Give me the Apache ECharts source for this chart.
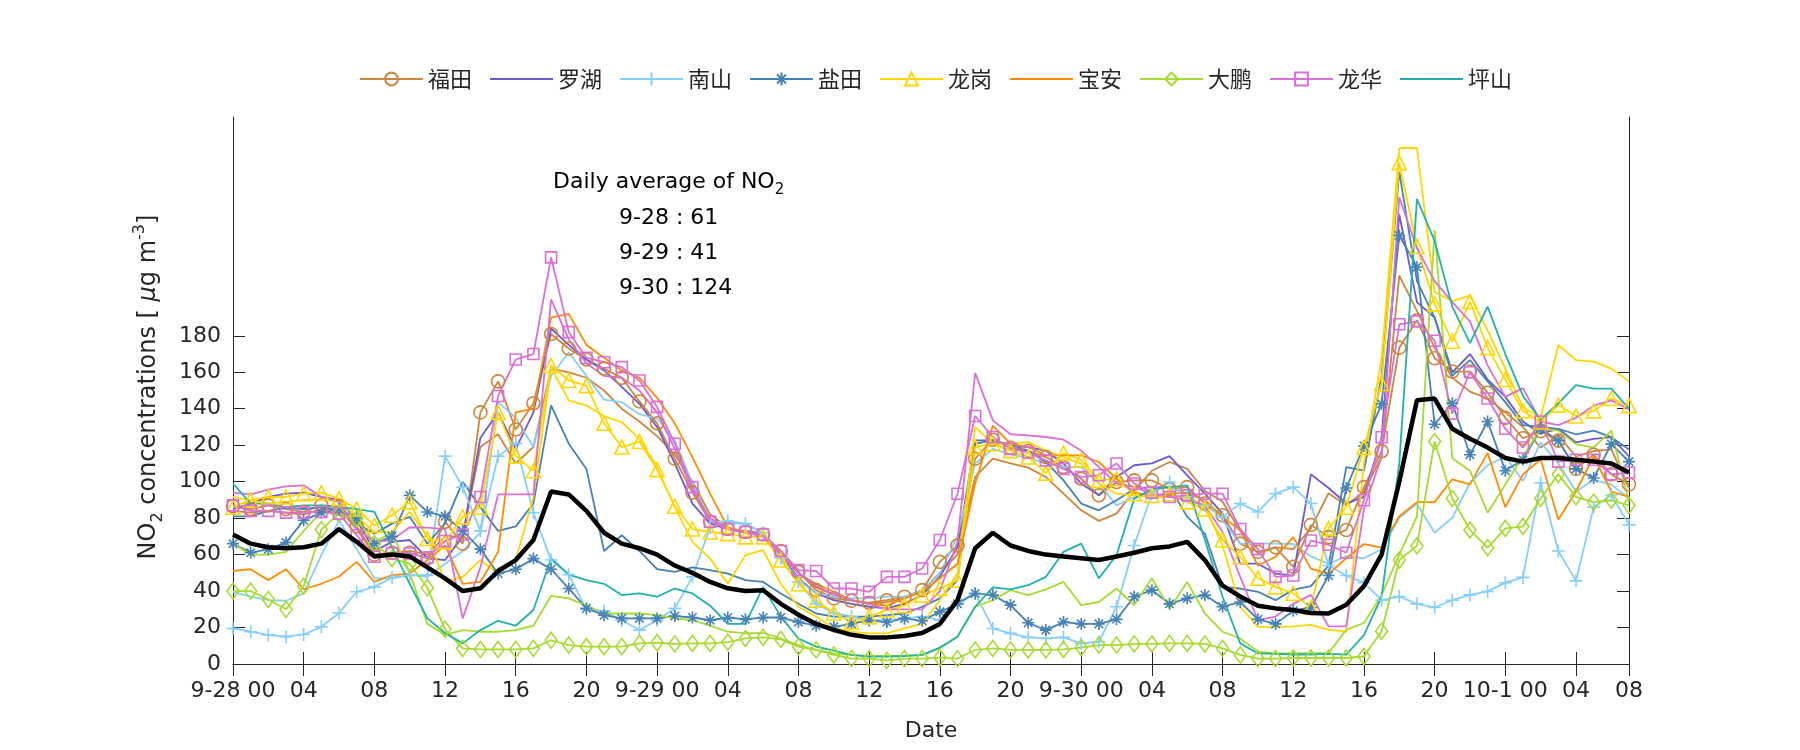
<!DOCTYPE html>
<html><head><meta charset="utf-8">
<script src="https://cdn.jsdelivr.net/npm/echarts@6/dist/echarts.min.js"></script>
<style>html,body{margin:0;padding:0;background:#fff}#c{width:1800px;height:750px}</style>
</head><body><div id="c"></div>
<script>
// ---- categories: hourly from 9-28 00 to 10-1 07 (80 points)
const days = ['9-28','9-29','9-30','10-1'];
const hours = [];
for (let h = 0; h < 80; h++) { hours.push(days[Math.floor(h/24)] + ' ' + String(h%24).padStart(2,'0')); }
const xTickIdx = [0,4,8,12,16,20,24,28,32,36,40,44,48,52,56,60,64,68,72,76,79];
const xTickLabels = ['9-28 00','04','08','12','16','20','9-29 00','04','08','12','16','20','9-30 00','04','08','12','16','20','10-1 00','04','08'];
const yTickValues = [0,20,40,60,80,100,120,140,160,180];
const dailyDates = ['9-28','9-29','9-30'];
const dailyAvg = [61,41,124];

// ---- series values
const futian = [86.5,85,87,85,83.4,87,86.5,75.5,60,61,61,58,78,66,138,155,128.6,143,181,173,167,
162,157,144,132,112.6,94,78,74,72.4,71,62,50.5,40.5,36,34.7,33.6,35,36.9,40.5,56,
65,112.6,123,118.6,116.8,113.5,108,101.6,92.5,99.8,100.7,100.7,96,97,88,81.6,66,61.5,64,
53.3,76.3,69.6,73.5,97,116.7,173.5,188.5,167.7,160.4,160.4,148.8,135,123.8,127.7,122.5,107,114.8,104,98.5];
const futian2 = [84,83,84,83,82,85,85,74,60,61,62,60,70,
70,119,126,110,119,162,160,157,
150,140,133,125,115,100,82,75,72,70,60,50,42,38,35,33,34,36,40,50,
60,102.6,112.6,110,107.7,102.6,93.4,84.3,78.5,82.5,95,106,110.8,107,95,89,73,60.6,64,
63,74.4,93.7,87,94.6,113.8,213,193.7,173.5,157,149.4,145.6,138,130,118.7,125.4,113.8,116.7,117.7,96.5];
const luohu = [85,88,91.6,93.4,94,91.6,90,79,62,67,68,58,57,70,124,138,118,138,184,175,167,
161,152,142.7,130,110,88,77,74,73,71.5,59.7,47,38.7,35,33,31.4,30.5,33,37.8,48,
64,122.6,122.6,120,119,117,110,99,92.5,102.6,109,110,114,103.5,93.4,82.5,55,55,49.6,
48.5,104,96.5,88,91.7,124.4,246.5,198.5,190,160,170,156,146.5,133,126.3,129,121.5,123.5,124.4,113.8];
const nanshan = [19.5,17.7,15.9,15,16.2,20.4,28,39.6,42.3,47.4,48.7,48.7,114,97,73,114,121,83,57,49,30,
29,24,18.6,24,30.5,47.8,75,78.5,77,72,58,45,33,28,26,24,24,25,26,24,
34,38.7,19.5,16.8,14.6,14,14.6,11.3,12.2,31.4,65,93.4,99.8,91.6,87,80.7,88,83.4,93.4,
97,88,54,48.5,44.6,35,37,33,31,35,37.9,39.8,44.6,47.5,99.4,62,45.6,86,92.7,76.3];
const nanshan2 = [39.6,36.9,35,34.7,38.7,59.7,78.8,63,47,47,48.7,47.8,55,62,72,143.6,135,119,158,171,158,
145,143.6,137,134.5,122.6,99,78.8,77,77,71.5,58.8,46,38.7,36.9,36,36,36.9,36.9,40.5,49.6,
70,110,118,115,113,110,108,108,99,87,91.6,95,97,93,90,79,66,66,66,
65.8,59,55,59,58,62.9,80.2,87.9,72,80.2,99.4,109,113.8,100.4,121.5,110,94.6,101,98.5,90.8];
const yantian = [66,61,63,66.6,78.8,83,85,80,66,70,92.5,83.4,81,73,63,49.6,52,57.8,52,41.4,30.5,
26.8,25,25,25,26.3,25.5,24,25.5,24.5,25.5,25.5,23,21,20.4,22,24,23,25,23.7,28.6,
33,38.7,37.8,32.3,22.6,18.6,23,22,22,24.5,36.9,40.5,33,36,37.8,31.4,34,24.5,22,
29.2,31,48.5,96.5,119.6,142.7,235,217.7,131.5,143,114.8,133,106,112,129,122.5,107,102,120.6,111];
const yantian2 = [81,81,84,85.8,85,86,84.7,77,71.5,77,80.7,66,77,100,86,73,75.5,88,141.8,120.8,107,
62,70.6,62,52,50.5,53,51.5,49.6,46,45,38.7,33,27.7,26,26,26,26.8,27.7,31.4,36,
46,120.8,122.6,120,117,110.8,100.7,88,84.3,89.8,96,97,97,80.7,71.5,42.3,41.4,39.6,35,
40.8,42.7,54,108,106,158,270,210,190,158,166.7,155,143.6,131,130,129,126,128,124.4,117.7];
const longgang = [86,90,91.6,91.6,93.4,94,90.7,85,76,81.6,88.9,68.8,67,80.7,86,138,114,106,163.7,155.5,152.7,
132,119,122,106.6,86.5,74,72.4,71.5,69.7,69.7,57,44,35,28,23,26,29.6,32,37.8,41.4,
46,119,120.8,117,113.5,104.7,115.7,112,100.7,101.6,93.4,92.5,93.4,88.9,85,68,58.8,47,42.3,
38.8,31,74.4,86,118.7,153.8,275,229,197.5,177,198.8,173.5,156,138.8,132.7,142,136,138.8,145.6,141.7];
const longgang2 = [91.6,89.8,88,89,90,90,89.4,80.7,72.4,72.4,83.4,70,45,47.8,57,49.6,57,91.6,162.8,144.5,141.8,
136,132.6,123.5,108,86,67,57.8,44,59.7,62.4,44,31.4,26,19.5,17.7,16.8,16.8,19.5,22,35,
49.6,130,120.8,120.8,121.7,117,113.5,109.9,99,93.4,92.5,91.6,91.6,91.6,86,65,31.4,20.4,20.4,
20.6,21.5,18.7,17.7,110,168,283,283,204,199,202,183,162,140.8,135,175,166.7,165.8,162,155];
const baoan = [51,52,46,52,41,44,48,56,45,48.7,49.6,57,65,44,45,61.5,138,140,190,192,175,
168,161,157,146,132,113.5,93.4,75,72.4,70.6,61.5,49.6,44,39.6,35,33,32,36,39.6,47,
55,99,130.8,120.8,119,114.4,114.4,114.4,110.8,101.6,94,92.5,93.4,94,89.8,80.7,73.4,54,58.8,
69.6,52.3,49.4,58,65.8,63.8,81,88.8,88.8,101.3,98.5,115.8,86,104,112.3,79.2,94.6,113.8,94.6,91.7];
const dapeng = [40,40,35.4,30,42.7,73.7,82.5,79.7,66,57.8,55,41.8,19,8.6,8,8,8,8.6,13,10.4,9.5,
9.5,9.5,11.3,11.7,11,11.3,11.3,12,14,14.6,13.5,9.5,7.7,5,3,3,2,3,3,3.5,
3,7.7,8.6,7.7,7.7,7.7,8,9,10.4,10.4,11,11,11.3,11.3,11,8.6,5,3,3,
3.3,3.3,3.3,3.3,4.2,18,57,64.8,122,90.8,73.5,63.8,74.4,75.4,90.8,104,91.7,88.8,89.8,87];
const dapeng2 = [66,60,60,61.5,73,83.4,81.6,79,67,72,50,22,16,18.6,17.7,17.7,18.6,21,37.4,36,32,
27.7,27.7,27.7,26.8,25,24,21,17.7,16.8,17,14,10.4,7.7,5.8,5,4.4,4.4,4.4,5,8.6,
15,31.4,35,40.5,37.8,40.9,45,32.3,34,41.4,32.3,47,30.5,45,27.7,17.7,14,6.8,5.8,
6,6,6,18.7,22.5,37.9,60,81,238,112.9,106,83,98.5,113.8,129,128,120.6,118.7,128,88.8];
const longhua = [87,84,84,83,83,83.4,82.5,70.6,58.8,60.6,60.6,58.4,67.5,71,91.6,147,167,170,223,182,168,
165.5,162.8,155.5,141,120.8,97,78,74,72.4,71,62,51.5,51,41.4,41.4,39.6,47.8,47.8,52.4,68,
93.4,136,124.5,118,116,111.7,107,102.6,103.5,110,99,94,91.6,92.5,93.4,93.4,74,63,47.8,
48.5,67.7,65.4,61,89.8,124.4,186.3,187.9,177.3,137.3,160,145.6,129,118.7,133,111,112,112,104,105];
const longhua2 = [94,93,95.6,97.4,98,91.6,89,74,67,68,75,74.8,74,25,53,93,93,93,200,178,165,
158,157,150,138,118,95,80,74,72,70,60,50,43,38,35,33,30,30,30,40,
67,159.5,133.6,126,125.4,124.5,123,117,108,99,97,93.4,91.6,89.8,87,72.4,47.8,24,26,
33,37.9,20.6,20.6,85,113.8,256,228,210,198.5,187.9,163.8,146.5,151.3,133,131,135,141.7,144.6,139.8];
const pingshan = [99,88,88,86,87,87,86,85,83.4,64,44,25,17,11.3,18.6,23.7,21,29.6,58,49,46,
44,37.8,38.7,36.9,41.4,38.7,32,22,22,42.3,26,14,9.5,7.3,5,4,4,4.4,5,9,
15,31.4,42,40.9,43.2,47.8,61.5,66,47,59.7,90.7,96,97,98,68,36.9,11.3,5.8,5.5,
5.2,5.2,5.6,5.2,15.8,37,110,255,232,196,176,196,170,147,134,143,153,151,151,140];
const average = [71,66,64,63.5,64,66,74,67,59,60,59,53,47,40,41.5,51,57,68,94.6,93,84,
72,66,63.5,60,54,50,45,41.5,40,40.5,33,27,22,18.7,16,14.6,14.6,15.4,17,22,
35,63.5,72,65,62,60,59,58,57,59,61,63.5,64.5,67,57,43,37,32,30.5,
29.6,28,27.7,32.5,42.7,60,100,144.6,145.6,129,123.5,118.7,113,111,113,113,112,111,110,105];

const legendNames = ['福田','罗湖','南山','盐田','龙岗','宝安','大鹏','龙华','坪山'];

// ---- styling
const FONT = "'DejaVu Sans','Noto Sans CJK SC',sans-serif";
const CJK = "'Noto Sans CJK SC',sans-serif";
const TXT = '#262626';
const tickSet = new Set(xTickIdx);
const labelMap = {}; xTickIdx.forEach((i,k)=>{ labelMap[i] = xTickLabels[k]; });
const PLUS = 'path://M5,0L5,10M0,5L10,5';
const STAR = 'path://M5,0L5,10M0,5L10,5M1.5,1.5L8.5,8.5M1.5,8.5L8.5,1.5';

function mk(name, data, color, symbol, size, z) {
  const hasSym = !!symbol;
  return {
    name: name, type: 'line', data: data,
    symbol: hasSym ? symbol : 'none', symbolSize: size || 12, showSymbol: hasSym, showAllSymbol: true,
    lineStyle: { color: color, width: 1.8 },
    itemStyle: hasSym ? { color: 'rgba(0,0,0,0)', borderColor: color, borderWidth: 1.6 }
                      : { color: 'rgba(0,0,0,0)', borderColor: 'rgba(0,0,0,0)', borderWidth: 0 },
    emphasis: { disabled: true }, z: z || 2, silent: true
  };
}

const C = { futian:'#CD853F', luohu:'#6A5ACD', nanshan:'#87CEFA', yantian:'#4682B4', longgang:'#FFD700',
            baoan:'#FF8C00', dapeng:'#A6DB2F', longhua:'#DA70D6', pingshan:'#20B2AA' };

const series = [
  mk('福田', futian, C.futian, 'circle', 13),
  mk('福田b', futian2, C.futian),
  mk('罗湖', luohu, C.luohu),
  mk('南山', nanshan, C.nanshan, PLUS, 13),
  mk('南山b', nanshan2, C.nanshan),
  mk('盐田', yantian, C.yantian, STAR, 12),
  mk('盐田b', yantian2, C.yantian),
  mk('龙岗', longgang, C.longgang, 'triangle', 14),
  mk('龙岗b', longgang2, C.longgang),
  mk('宝安', baoan, C.baoan),
  mk('大鹏', dapeng, C.dapeng, 'diamond', [12,16]),
  mk('大鹏b', dapeng2, C.dapeng),
  mk('龙华', longhua, C.longhua, 'rect', 11),
  mk('龙华b', longhua2, C.longhua),
  mk('坪山', pingshan, C.pingshan),
  { name: 'avg', type: 'line', data: average, symbol: 'none', showSymbol: false, lineStyle: { color: '#000', width: 4.5 },
    itemStyle: { color: '#000' }, z: 5, silent: true, emphasis: { disabled: true } }
];

const axisLineStyle = { color: TXT, width: 1 };
const chart = echarts.init(document.getElementById('c'), null, { renderer: 'canvas' });
chart.setOption({
  animation: false,
  backgroundColor: '#fff',
  grid: { left: 233, right: 171, top: 117, bottom: 86, containLabel: false },
  legend: {
    data: legendNames, left: 354, top: 63, itemWidth: 63, itemHeight: 16, itemGap: 17,
    textStyle: { fontSize: 22, color: TXT, fontFamily: CJK }, selectedMode: false
  },
  xAxis: [
    { type: 'category', data: hours, boundaryGap: false, position: 'bottom',
      axisLine: { lineStyle: axisLineStyle },
      axisTick: { inside: true, length: 12, interval: (i) => tickSet.has(i), lineStyle: axisLineStyle },
      axisLabel: { interval: (i) => tickSet.has(i), formatter: (v, i) => labelMap[i] || '', color: TXT, fontSize: 22, margin: 16, fontFamily: FONT },
      splitLine: { show: false },
      name: 'Date', nameLocation: 'middle', nameGap: 56,
      nameTextStyle: { fontSize: 22, color: TXT, fontFamily: FONT } },
    { type: 'category', data: hours, boundaryGap: false, position: 'top',
      axisLine: { lineStyle: axisLineStyle },
      axisTick: { inside: true, length: 12, interval: (i) => tickSet.has(i), lineStyle: axisLineStyle },
      axisLabel: { show: false }, splitLine: { show: false } }
  ],
  yAxis: [
    { type: 'value', min: 0, max: 300, interval: 20, position: 'left',
      axisLine: { show: true, lineStyle: axisLineStyle },
      axisTick: { show: true, inside: true, length: 12, customValues: yTickValues, lineStyle: axisLineStyle },
      axisLabel: { customValues: yTickValues, formatter: (v) => (v > 180 ? '' : String(v)), color: TXT, fontSize: 22, margin: 12, fontFamily: FONT },
      splitLine: { show: false } },
    { type: 'value', min: 0, max: 300, interval: 20, position: 'right',
      axisLine: { show: true, lineStyle: axisLineStyle },
      axisTick: { show: true, inside: true, length: 12, customValues: yTickValues, lineStyle: axisLineStyle },
      axisLabel: { show: false }, splitLine: { show: false } }
  ],
  graphic: [
    { type: 'text', x: 149, y: 387, rotation: Math.PI / 2,
      style: { text: '{n|NO}{s|2}{n| concentrations [ }{m|μ}{n|g m}{p|-3}{n|]}', align: 'center', verticalAlign: 'middle',
        rich: {
          n: { fontSize: 24, lineHeight: 34, fill: TXT, fontFamily: FONT },
          m: { fontSize: 24, lineHeight: 34, fill: TXT, fontFamily: FONT, fontStyle: 'italic' },
          s: { fontSize: 16, lineHeight: 16, fill: TXT, fontFamily: FONT, verticalAlign: 'bottom' },
          p: { fontSize: 16, lineHeight: 16, fill: TXT, fontFamily: FONT, verticalAlign: 'top' }
        } } },
    { type: 'text', x: 553, y: 182,
      style: { text: '{n|Daily average of NO}{s|2}', align: 'left', verticalAlign: 'middle',
        rich: {
          n: { fontSize: 22, lineHeight: 32, fill: '#000', fontFamily: FONT },
          s: { fontSize: 15, lineHeight: 15, fill: '#000', fontFamily: FONT, verticalAlign: 'bottom' }
        } } },
    ...dailyDates.map((d, k) => ({ type: 'text', x: 619, y: 218 + k * 35,
      style: { text: d + ' : ' + dailyAvg[k], fontSize: 22, fill: '#000', fontFamily: FONT, align: 'left', verticalAlign: 'middle' } }))
  ],
  series: series
});
</script>
</body></html>
